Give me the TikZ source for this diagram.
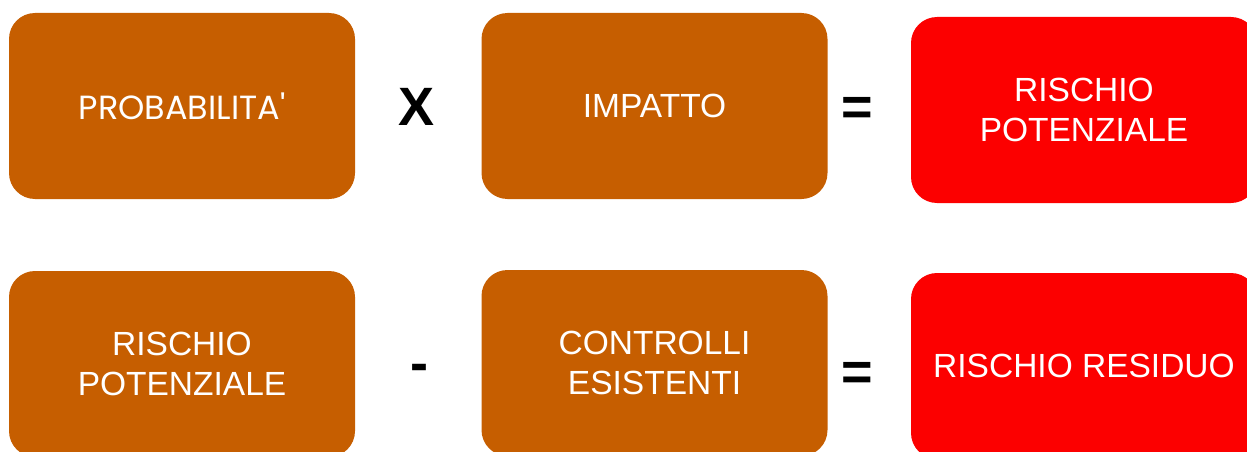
\documentclass[tikz,border=0pt]{standalone}
\usepackage{fontspec}
\setmainfont{Liberation Sans}
\newfontfamily\gothic{Poppins}
\definecolor{rustbox}{RGB}{198,94,0}
\definecolor{redbox}{RGB}{252,0,0}

\begin{document}
\begin{tikzpicture}[x=1pt,y=-1pt,
    box/.style={fill=rustbox, rounded corners=26pt, minimum width=346pt, minimum height=186pt,
        inner sep=0pt, text=white, align=center, font=\fontsize{33.5}{40}\selectfont},
    riskbox/.style={box, fill=redbox},
    op/.style={inner sep=0pt, font=\bfseries\fontsize{54}{54}\selectfont}]
    \useasboundingbox (0,0) rectangle (1247,452);
    % First row: probabilita' x impatto
    \node[box] (prob) at (182,106) {\gothic PROBABILITA'};
    \node[box] (imp) at (654.5,106) {IMPATTO};
    \node[riskbox] (potA) at (1084,110) {RISCHIO\\POTENZIALE};
    % Second row: rischio potenziale - controlli
    \node[box] (potB) at (182,364) {RISCHIO\\POTENZIALE};
    \node[box] (contr) at (654.5,363) {CONTROLLI\\ESISTENTI};
    \node[riskbox] (resid) at (1084,366) {RISCHIO RESIDUO};
    % Operators
    \node[op] (times) at (417,107) {X};
    \node[op] (eqA) at (857,111) {=};
    \node[op] (minus) at (419,373) {-};
    \node[op] (eqB) at (857,376) {=};
\end{tikzpicture}
\end{document}
